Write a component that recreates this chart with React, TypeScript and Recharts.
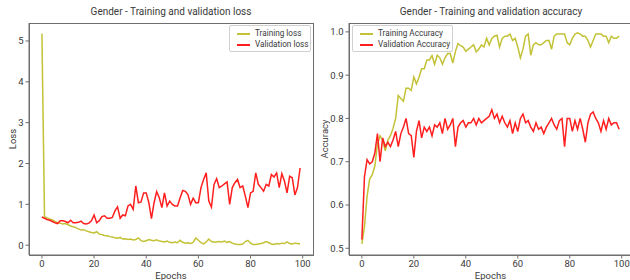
import React from 'react';
import { LineChart, Line, XAxis, YAxis, Legend, Label } from 'recharts';

const epochs: number[] = Array.from({ length: 100 }, (_, i) => i);

const trainLoss: number[] = [
  5.18, 0.70, 0.67, 0.64, 0.62, 0.58, 0.55, 0.54, 0.52, 0.53,
  0.50, 0.47, 0.45, 0.43, 0.40, 0.37, 0.38, 0.35, 0.33, 0.31,
  0.30, 0.33, 0.27, 0.26, 0.24, 0.23, 0.21, 0.20, 0.18, 0.17,
  0.19, 0.15, 0.16, 0.14, 0.15, 0.13, 0.14, 0.18, 0.11, 0.09,
  0.11, 0.14, 0.12, 0.11, 0.13, 0.10, 0.09, 0.08, 0.10, 0.07,
  0.06, 0.08, 0.06, 0.12, 0.07, 0.05, 0.06, 0.04, 0.07, 0.18,
  0.12, 0.06, 0.03, 0.08, 0.15, 0.09, 0.07, 0.08, 0.09, 0.08,
  0.10, 0.07, 0.09, 0.05, 0.03, 0.02, 0.02, 0.03, 0.09, 0.12,
  0.05, 0.02, 0.02, 0.03, 0.04, 0.06, 0.09, 0.06, 0.03, 0.02,
  0.04, 0.03, 0.05, 0.04, 0.08, 0.04, 0.03, 0.05, 0.04, 0.03,
];

const valLoss: number[] = [
  0.69, 0.66, 0.63, 0.61, 0.58, 0.55, 0.53, 0.60, 0.60, 0.58,
  0.55, 0.61, 0.55, 0.55, 0.56, 0.59, 0.53, 0.52, 0.54, 0.60,
  0.74, 0.55, 0.60, 0.70, 0.72, 0.66, 0.66, 0.68, 0.84, 0.94,
  0.66, 0.74, 0.72, 0.96, 1.00, 0.88, 1.45, 1.04, 1.06, 1.28,
  1.28, 1.04, 0.65, 1.04, 1.31, 1.16, 0.92, 1.28, 0.96, 1.08,
  1.00, 0.96, 0.96, 1.16, 1.34, 1.32, 1.24, 1.00, 1.15, 1.04,
  1.04, 1.41, 1.61, 1.77, 1.08, 0.93, 1.49, 1.63, 1.41, 1.45,
  1.50, 1.55, 1.00, 1.41, 1.53, 1.61, 1.41, 1.45, 1.20, 0.92,
  1.28, 1.32, 1.77, 1.49, 1.41, 1.32, 1.49, 1.45, 1.73, 1.67,
  1.77, 1.41, 1.75, 1.57, 1.28, 1.69, 1.65, 1.23, 1.41, 1.89,
];

const trainAcc: number[] = [
  0.51, 0.55, 0.62, 0.66, 0.67, 0.69, 0.74, 0.76, 0.75, 0.725,
  0.75, 0.76, 0.777, 0.80, 0.853, 0.846, 0.84, 0.87, 0.87, 0.865,
  0.896, 0.88, 0.895, 0.915, 0.915, 0.935, 0.935, 0.945, 0.925, 0.946,
  0.94, 0.925, 0.94, 0.95, 0.95, 0.928, 0.955, 0.973, 0.968, 0.965,
  0.955, 0.96, 0.965, 0.97, 0.954, 0.96, 0.97, 0.965, 0.985, 0.97,
  0.985, 0.99, 0.992, 0.965, 0.985, 0.99, 0.99, 0.995, 0.98, 0.985,
  0.965, 0.94, 0.96, 0.99, 0.995, 0.946, 0.97, 0.975, 0.97, 0.97,
  0.975, 0.98, 0.98, 0.96, 0.99, 0.995, 0.995, 0.995, 0.995, 0.975,
  0.97, 0.985, 0.995, 0.998, 0.995, 0.99, 0.99, 0.98, 0.965, 0.98,
  0.995, 0.995, 0.995, 0.99, 0.99, 0.975, 0.99, 0.985, 0.985, 0.99,
];

const valAcc: number[] = [
  0.52, 0.665, 0.705, 0.695, 0.70, 0.72, 0.765, 0.70, 0.755, 0.735,
  0.745, 0.735, 0.75, 0.77, 0.735, 0.765, 0.78, 0.80, 0.765, 0.76,
  0.71, 0.77, 0.795, 0.755, 0.78, 0.77, 0.78, 0.76, 0.785, 0.78,
  0.79, 0.765, 0.80, 0.775, 0.785, 0.80, 0.735, 0.78, 0.79, 0.795,
  0.78, 0.79, 0.79, 0.80, 0.785, 0.80, 0.79, 0.795, 0.80, 0.805,
  0.82, 0.80, 0.81, 0.79, 0.805, 0.79, 0.78, 0.795, 0.765, 0.79,
  0.77, 0.80, 0.81, 0.79, 0.795, 0.78, 0.77, 0.79, 0.775, 0.78,
  0.765, 0.78, 0.79, 0.80, 0.785, 0.775, 0.795, 0.80, 0.735, 0.80,
  0.80, 0.77, 0.795, 0.775, 0.80, 0.775, 0.745, 0.79, 0.81, 0.815,
  0.80, 0.79, 0.77, 0.795, 0.775, 0.80, 0.785, 0.79, 0.79, 0.775,
];

const xTicks: number[] = [0, 20, 40, 60, 80, 100];
const lossTicks: number[] = [0, 1, 2, 3, 4, 5];
const accTicks: number[] = [0.5, 0.6, 0.7, 0.8, 0.9, 1.0];

const lossData = epochs.map((e, i) => ({ epoch: e, train: trainLoss[i], val: valLoss[i] }));
const accData = epochs.map((e, i) => ({ epoch: e, train: trainAcc[i], val: valAcc[i] }));

const OLIVE = '#c3c236';
const RED = '#ff1f1f';
const SPINE = '#6e6e6e';
const TXT = '#3a3a3a';
const FONT = 'Roboto, "DejaVu Sans", sans-serif';

const tickStyle = { fontSize: 9.5, fill: TXT, fontFamily: FONT };

const LegendBox = ({ payload, width }: any) => (
  <div
    style={{
      border: '1px solid #d0d0d0',
      borderRadius: 2,
      background: 'rgba(255,255,255,0.9)',
      width,
      height: 27,
      boxSizing: 'border-box',
      padding: '2px 0 0 7px',
      fontFamily: FONT,
      fontSize: 8.2,
      color: TXT,
      lineHeight: '11px',
    }}
  >
    {(payload || []).map((p: any) => (
      <div key={p.value} style={{ display: 'flex', alignItems: 'center', whiteSpace: 'nowrap' }}>
        <span style={{ display: 'inline-block', flexShrink: 0, width: 13, height: 2, background: p.color, marginRight: 5 }} />
        <span>{p.value}</span>
      </div>
    ))}
  </div>
);

const YLabel = (text: string, dx: number) => (props: any) => {
  const vb = props.viewBox || {};
  const x = (vb.x || 0) + dx;
  const y = (vb.y || 0) + (vb.height || 0) / 2;
  return (
    <text x={x} y={y} transform={`rotate(-90 ${x} ${y})`} textAnchor="middle" dominantBaseline="central" fontSize={9.5} fill={TXT} fontFamily={FONT}>
      {text}
    </text>
  );
};

const Border = ({ left, top, width, height }: any) => (
  <div style={{ position: 'absolute', left, top, width, height, border: `1px solid ${SPINE}`, boxSizing: 'border-box', pointerEvents: 'none' }} />
);

const Title = ({ cx, text }: any) => (
  <div style={{ position: 'absolute', left: cx - 150, width: 300, top: 6, textAlign: 'center', fontFamily: FONT, fontSize: 10, color: TXT, whiteSpace: 'nowrap' }}>
    {text}
  </div>
);

export default function App() {
  return (
    <div style={{ position: 'fixed', left: 0, top: 0, width: 630, height: 280, overflow: 'hidden', background: '#fff' }}>
      <Title cx={171} text="Gender - Training and validation loss" />
      <Title cx={491} text="Gender - Training and validation accuracy" />
      <div style={{ position: 'absolute', left: 0, top: 0 }}>
        <LineChart width={320} height={280} data={lossData} margin={{ top: 23, right: 7, left: 0, bottom: 0 }}>
          <XAxis dataKey="epoch" type="number" domain={[-4.95, 103.95]} ticks={xTicks} allowDataOverflow height={25} tickSize={3.5} tickMargin={2} stroke={SPINE} tick={tickStyle} interval={0}>
            <Label value="Epochs" position="insideBottom" offset={1} style={{ fontSize: 9.5, fill: TXT, fontFamily: FONT }} />
          </XAxis>
          <YAxis type="number" domain={[-0.24, 5.44]} ticks={lossTicks} allowDataOverflow width={29} tickSize={3.5} tickMargin={2} stroke={SPINE} tick={tickStyle} interval={0}>
            <Label content={YLabel('Loss', 12)} />
          </YAxis>
          <Legend
            layout="horizontal"
            verticalAlign="middle"
            align="center"
            wrapperStyle={{ position: 'absolute', left: 229, top: 25, width: 82, height: 27 }}
            content={(p: any) => <LegendBox payload={p.payload} width={82} />}
          />
          <Line type="linear" dataKey="train" name="Training loss" stroke={OLIVE} strokeWidth={1.5} dot={false} isAnimationActive={false} />
          <Line type="linear" dataKey="val" name="Validation loss" stroke={RED} strokeWidth={1.5} dot={false} isAnimationActive={false} />
        </LineChart>
      </div>
      <Border left={29} top={23} width={285} height={233} />
      <div style={{ position: 'absolute', left: 320, top: 0 }}>
        <LineChart width={312} height={280} data={accData} margin={{ top: 23, right: 0, left: 0, bottom: 0 }}>
          <XAxis dataKey="epoch" type="number" domain={[-4.95, 103.95]} ticks={xTicks} allowDataOverflow height={25} tickSize={3.5} tickMargin={2} stroke={SPINE} tick={tickStyle} interval={0}>
            <Label value="Epochs" position="insideBottom" offset={1} style={{ fontSize: 9.5, fill: TXT, fontFamily: FONT }} />
          </XAxis>
          <YAxis type="number" domain={[0.4845, 1.0205]} ticks={accTicks} allowDataOverflow width={29} tickSize={3.5} tickMargin={2} stroke={SPINE} tick={tickStyle} interval={0} tickFormatter={(v: number) => v.toFixed(1)}>
            <Label content={YLabel('Accuracy', 4)} />
          </YAxis>
          <Legend
            layout="horizontal"
            verticalAlign="middle"
            align="center"
            wrapperStyle={{ position: 'absolute', left: 32, top: 25, width: 101, height: 27 }}
            content={(p: any) => <LegendBox payload={p.payload} width={101} />}
          />
          <Line type="linear" dataKey="train" name="Training Accuracy" stroke={OLIVE} strokeWidth={1.5} dot={false} isAnimationActive={false} />
          <Line type="linear" dataKey="val" name="Validation Accuracy" stroke={RED} strokeWidth={1.5} dot={false} isAnimationActive={false} />
        </LineChart>
      </div>
      <Border left={349} top={23} width={290} height={233} />
    </div>
  );
}
